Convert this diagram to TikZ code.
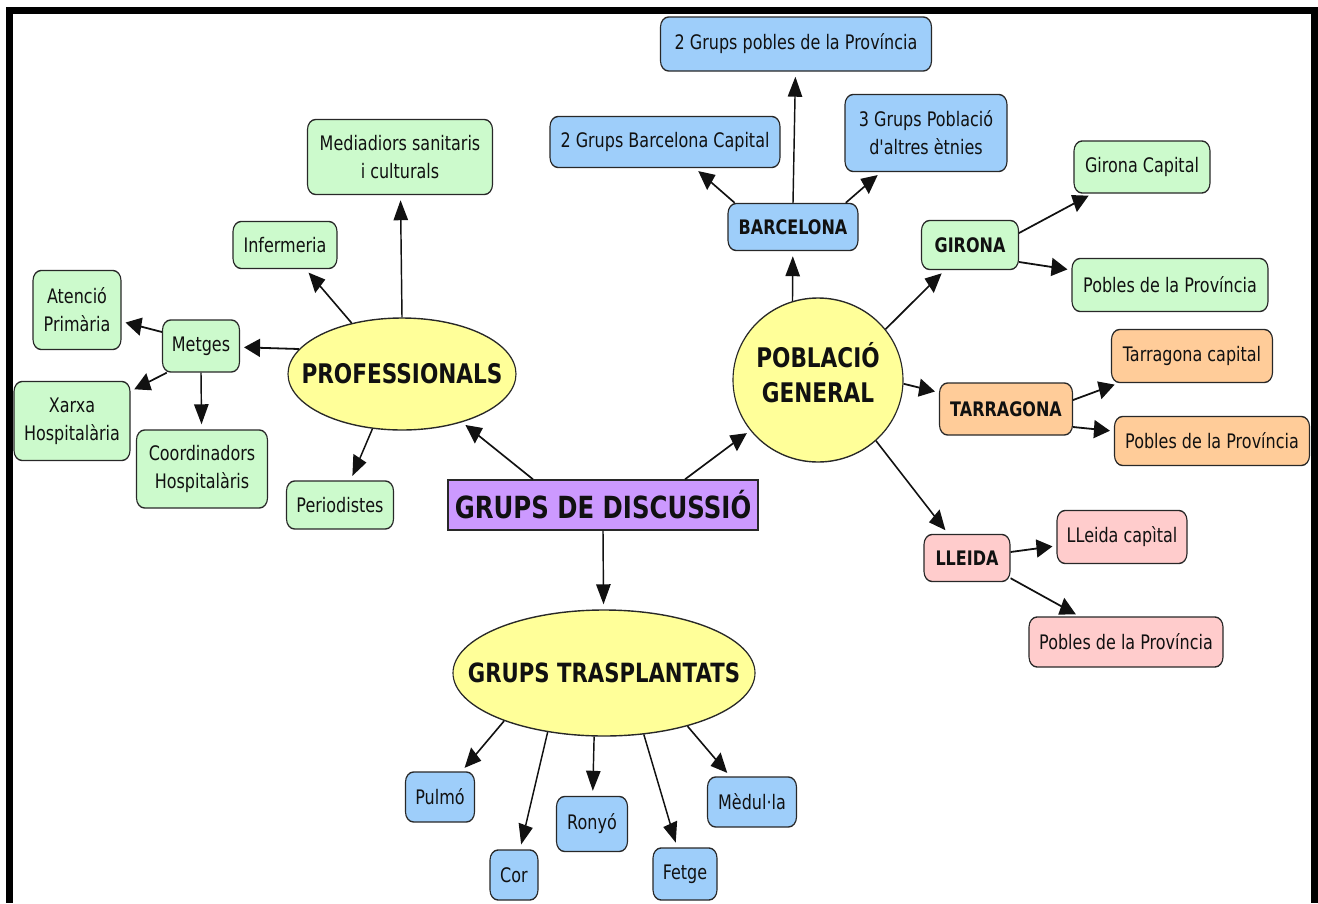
\documentclass[tikz,border=0pt]{standalone}
\usepackage{fontspec}
\setmainfont{DejaVu Sans}
\usetikzlibrary{shapes.geometric,arrows.meta}

\definecolor{cgreen}{RGB}{204,250,204}
\definecolor{cblue}{RGB}{158,206,250}
\definecolor{cyellow}{RGB}{255,255,153}
\definecolor{corange}{RGB}{255,204,153}
\definecolor{cpink}{RGB}{255,204,204}
\definecolor{cpurple}{RGB}{204,153,255}
\definecolor{edge}{RGB}{40,40,40}
\definecolor{ink}{RGB}{17,17,17}

\tikzset{
  sz/.style 2 args={minimum width=#1*1.25pt, minimum height=#2*1pt},
  card/.style={draw=edge, line width=1.4pt, rounded corners=10pt, inner sep=0pt,
    align=center, text=ink, font=\fontsize{20}{28}\selectfont},
  gcard/.style={card, fill=cgreen},
  bcard/.style={card, fill=cblue},
  ocard/.style={card, fill=corange},
  pcard/.style={card, fill=cpink},
  key/.style={font=\bfseries\fontsize{20}{24}\selectfont},
  oval/.style={ellipse, draw=edge, line width=1.4pt, fill=cyellow, inner sep=0pt},
  ovaltext/.style={align=center, text=ink, inner sep=0pt,
    font=\bfseries\fontsize{27}{35}\selectfont},
  link/.style={line width=1.8pt, draw=ink, -{Triangle[length=20pt,width=18pt]},
    shorten >=5pt},
}

\begin{document}
\begin{tikzpicture}[x=1pt,y=-1pt]
\useasboundingbox (0,0) rectangle (1318,903);
% frame
\fill[black] (6,7) rectangle (1318,14);
\fill[black] (6,7) rectangle (13,903);
\fill[black] (1311,7) rectangle (1318,903);

\begin{scope}[transform canvas={xscale=0.8}, x=1.25pt]
% centre
\node[draw=edge, line width=1.4pt, fill=cpurple, inner sep=0pt, text=ink,
  font=\bfseries\fontsize{30.5}{34}\selectfont, sz={310}{50}] (disc) at (603,505) {GRUPS DE DISCUSSIÓ};

% professionals
\node[oval, sz={228}{112},
  label={[ovaltext]center:PROFESSIONALS}] (prof) at (402,374) {};
\node[gcard, sz={185}{75}] (med) at (400,157) {Mediadiors sanitaris\\i culturals};
\node[gcard, sz={104}{47}] (inf) at (285,245) {Infermeria};
\node[gcard, sz={77}{52}] (met) at (201,346) {Metges};
\node[gcard, sz={88}{79}] (aten) at (77,310) {Atenció\\Primària};
\node[gcard, sz={116}{79}] (xarxa) at (72,421) {Xarxa\\Hospitalària};
\node[gcard, sz={131}{78}] (coord) at (202,469) {Coordinadors\\Hospitalàris};
\node[gcard, sz={107}{48}] (peri) at (340,505) {Periodistes};

% poblacio general
\node[oval, sz={170}{164},
  label={[ovaltext, yshift=7pt]center:POBLACIÓ\\GENERAL}] (pob) at (818,380) {};
\node[bcard, key, sz={130}{47}] (barc) at (793,227) {BARCELONA};
\node[bcard, sz={271}{54}] (bpob) at (796,44) {2 Grups pobles de la Província};
\node[bcard, sz={230}{51}] (bcap) at (665,142) {2 Grups Barcelona Capital};
\node[bcard, sz={162}{77}] (etn) at (926,133) {3 Grups Població\\d\textquotesingle altres ètnies};

\node[gcard, key, sz={97}{49}] (gir) at (970,245) {GIRONA};
\node[gcard, sz={136}{52}] (gcap) at (1142,167) {Girona Capital};
\node[gcard, sz={196}{53}] (gpob) at (1170,285) {Pobles de la Província};

\node[ocard, key, sz={133}{52}] (tar) at (1006,409) {TARRAGONA};
\node[ocard, sz={161}{53}] (tcap) at (1192,356) {Tarragona capital};
\node[ocard, sz={195}{49}] (tpob) at (1212,441) {Pobles de la Província};

\node[pcard, key, sz={86}{47}] (lle) at (967,558) {LLEIDA};
\node[pcard, sz={130}{53}] (lcap) at (1122,537) {LLeida capìtal};
\node[pcard, sz={194}{50}] (lpob) at (1126,642) {Pobles de la Província};

% trasplantats
\node[oval, sz={302}{126},
  label={[ovaltext, font=\bfseries\fontsize{26.5}{30}\selectfont]center:GRUPS TRASPLANTATS}] (trasp) at (604,673) {};
\node[bcard, sz={69}{50}] (pulmo) at (440,797) {Pulmó};
\node[bcard, sz={48}{50}] (cor) at (514,875) {Cor};
\node[bcard, sz={71}{55}] (ronyo) at (592,824) {Ronyó};
\node[bcard, sz={64}{52}] (fetge) at (685,874) {Fetge};
\node[bcard, sz={89}{50}] (medul) at (752,802) {Mèdul·la};

% connectors
\draw[link] ([xshift=-87.5pt]disc.north) -- (prof);
\draw[link] ([xshift=102.5pt]disc.north) -- (pob);
\draw[link] (disc.south) -- (trasp);

\draw[link] (prof.169) -- (met);
\draw[link] (prof.141) -- (inf);
\draw[link] (prof.north) -- (med);
\draw[link] (prof.236) -- (peri);
\draw[link] ([yshift=14pt]met.west) -- (aten);
\draw[link] ([xshift=6pt]met.south west) -- (xarxa);
\draw[link] (met.south) -- (coord);

\draw[link] (pob.112) -- (barc);
\draw[link] (barc.north) -- (bpob);
\draw[link] ([xshift=9pt]barc.north west) -- (bcap);
\draw[link] ([xshift=-16pt]barc.north east) -- (etn);

\draw[link] (pob.31) -- (gir);
\draw[link] ([yshift=12pt]gir.east) -- (gcap);
\draw[link] ([yshift=-17pt]gir.east) -- (gpob);

\draw[link] (pob.358) -- (tar);
\draw[link] ([yshift=9pt]tar.east) -- (tcap);
\draw[link] ([yshift=-18pt]tar.east) -- (tpob);

\draw[link] (pob.320) -- (lle);
\draw[link] ([yshift=6pt]lle.east) -- (lcap);
\draw[link] ([yshift=4pt]lle.south east) -- (lpob);

\draw[link] (trasp.201.6) -- (pulmo);
\draw[link] (trasp.220.6) -- (cor);
\draw[link] (trasp.259) -- (ronyo);
\draw[link] (trasp.309.5) -- (fetge);
\draw[link] (trasp.333.8) -- (medul);
\end{scope}
\end{tikzpicture}
\end{document}
